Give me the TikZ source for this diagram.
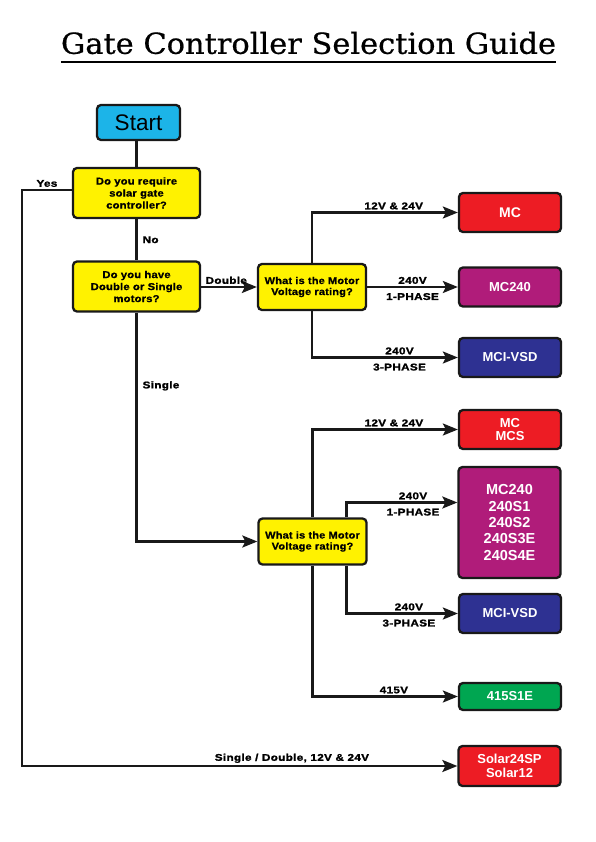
\documentclass[tikz,border=0pt]{standalone}
\usepackage{fontspec}
\usepackage{xcolor}
\setmainfont{Liberation Sans}
\newfontfamily\titlefont[FakeStretch=1.05,FakeBold=0.6]{DejaVu Serif}
\newfontfamily\heavyfont[FakeStretch=1.12,LetterSpace=2,FakeBold=1]{Liberation Sans}
\newfontfamily\edgefont[FakeStretch=1.2,LetterSpace=3,FakeBold=1.5]{Liberation Sans}
\usetikzlibrary{arrows.meta}

\definecolor{startblue}{HTML}{1CB4E8}
\definecolor{askyellow}{HTML}{FFF200}
\definecolor{prodred}{HTML}{ED1C24}
\definecolor{prodpurple}{HTML}{B01C7A}
\definecolor{prodnavy}{HTML}{2E3192}
\definecolor{prodgreen}{HTML}{00A651}

\begin{document}
\begin{tikzpicture}[x=1pt, y=-1pt,
    box/.style={draw=black!90, line width=2.3pt, rounded corners=4pt, align=center, inner sep=0pt},
    question/.style={box, fill=askyellow, minimum width=127pt, minimum height=50pt,
        font=\heavyfont\bfseries\fontsize{10}{12}\selectfont},
    rating/.style={box, fill=askyellow, minimum width=108pt, minimum height=46pt,
        font=\heavyfont\bfseries\fontsize{9.8}{11}\selectfont},
    product/.style={box, text=white, minimum width=102pt, minimum height=39pt,
        font=\bfseries\fontsize{13}{13.5}\selectfont},
    wire/.style={line width=2.2pt, draw=black!90},
    arr/.style={wire, -{Stealth[length=15pt, width=12pt, inset=3pt]}},
    lbl/.style={font=\edgefont\bfseries\fontsize{9.8}{10}\selectfont, inner sep=2pt}]

    \useasboundingbox (0,0) rectangle (595,842);

    % title
    \node[font=\titlefont\fontsize{29}{32}\selectfont, inner sep=0pt] (title) at (308.5,43) {Gate Controller Selection Guide};
    \draw[line width=2.5pt] ([yshift=-8pt]title.base west) -- ([yshift=-8pt]title.base east);

    % questions
    \node[box, fill=startblue, minimum width=83pt, minimum height=35pt, font=\fontsize{22.5}{24}\selectfont] (start) at (138.5,122.5) {Start};
    \node[question] (solarq) at (136.5,193) {Do you require\\solar gate\\controller?};
    \node[question] (motorq) at (136.5,286.5) {Do you have\\Double or Single\\motors?};
    \node[rating] (doublev) at (312,287) {What is the Motor\\Voltage rating?};
    \node[rating] (singlev) at (312.5,541.5) {What is the Motor\\Voltage rating?};

    % products, double motors
    \node[product, fill=prodred, font=\bfseries\fontsize{14}{15}\selectfont] (dmc) at (510,212.5) {MC};
    \node[product, fill=prodpurple] (dmc240) at (510,287) {MC240};
    \node[product, fill=prodnavy] (dvsd) at (510,357.5) {MCI-VSD};

    % products, single motors
    \node[product, fill=prodred] (smc) at (510,429.5) {MC\\MCS};
    \node[product, fill=prodpurple, minimum height=111pt, font=\bfseries\fontsize{14.5}{16.3}\selectfont] (s240) at (509.5,522.5) {MC240\\240S1\\240S2\\240S3E\\240S4E};
    \node[product, fill=prodnavy] (svsd) at (510,613.5) {MCI-VSD};
    \node[product, fill=prodgreen, minimum height=27pt] (s415) at (510,696.5) {415S1E};

    % products, solar
    \node[product, fill=prodred, minimum height=40pt] (solar) at (509.5,766) {Solar24SP\\Solar12};

    \coordinate (yesturn) at (22,190);

    \draw[wire] (start.south -| solarq.north) -- (solarq.north);
    \draw[wire] (solarq) -- node[lbl, right=3pt]{No} (motorq);
    \draw[arr] (solarq.west |- yesturn) -- node[lbl, above]{Yes} (yesturn)
        |- node[lbl, above, pos=0.81]{Single / Double, 12V \& 24V} (solar.west);

    \draw[arr] (motorq.east |- doublev) -- node[lbl, above, pos=0.45]{Double} (doublev.west);
    \draw[arr] (motorq.south) |- node[lbl, right=3pt, pos=0.16]{Single} (singlev.west);

    \draw[arr] (doublev.north) |- node[lbl, above, pos=0.78]{12V \& 24V} (dmc.west);
    \draw[arr] (doublev.east) -- node[lbl, above]{240V} node[lbl, below=3pt]{1-PHASE} (dmc240.west |- doublev);
    \draw[arr] (doublev.south) |- node[lbl, above, pos=0.8]{240V} node[lbl, below=3pt, pos=0.8]{3-PHASE} (dvsd.west);

    \draw[arr] (singlev.north) |- node[lbl, above, pos=0.78]{12V \& 24V} (smc.west);
    \draw[arr] ([xshift=34pt]singlev.north) |- node[lbl, above, pos=0.8]{240V} node[lbl, below=3pt, pos=0.8]{1-PHASE} ([yshift=20pt]s240.west);
    \draw[arr] ([xshift=34pt]singlev.south) |- node[lbl, above, pos=0.78]{240V} node[lbl, below=3pt, pos=0.78]{3-PHASE} (svsd.west);
    \draw[arr] (singlev.south) |- node[lbl, above, pos=0.78]{415V} (s415.west);

\end{tikzpicture}
\end{document}
